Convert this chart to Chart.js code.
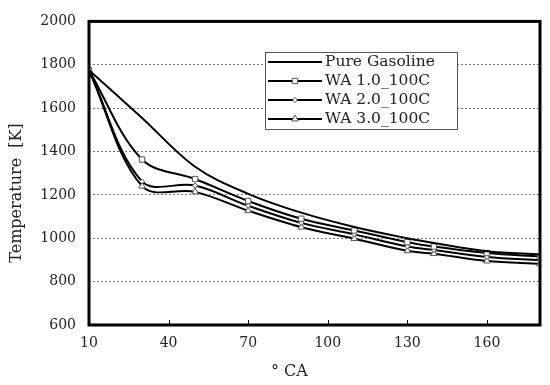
<!DOCTYPE html>
<html>
<head>
<meta charset="utf-8">
<script src="https://cdn.jsdelivr.net/npm/chart.js@4/dist/chart.umd.min.js"></script>
<style>
  html, body { margin: 0; padding: 0; background: #fff; }
  #wrap { width: 550px; height: 385px; }
</style>
</head>
<body>
<div id="wrap"><canvas id="myChart" width="550" height="385"></canvas></div>
<script>
// crank angle (°CA) and in-cylinder temperature [K]
const crankAngle = [10, 30, 50, 70, 90, 110, 130, 140, 160, 180];
const pureGasoline = [1775, 1555, 1330, 1205, 1118, 1052, 1000, 978, 940, 925];
const wa10 = [1775, 1363, 1273, 1172, 1090, 1036, 982, 962, 932, 916];
const wa20 = [1775, 1262, 1243, 1150, 1071, 1018, 962, 946, 914, 898];
const wa30 = [1775, 1240, 1214, 1127, 1051, 998, 942, 929, 895, 882];

const seriesNames = ['Pure Gasoline', 'WA 1.0_100C', 'WA 2.0_100C', 'WA 3.0_100C'];
const xTicks = [10, 40, 70, 100, 130, 160];
const yMin = 600, yMax = 2000, yStep = 200;

const serif = 'DejaVu Serif';

function pts(vals) {
  return crankAngle.map((x, i) => ({ x: x, y: vals[i] }));
}

function line(label, vals, style, radius) {
  return {
    label: label,
    data: pts(vals),
    borderColor: '#000',
    borderWidth: 2,
    tension: 0.35,
    pointStyle: style,
    pointRadius: radius,
    pointBorderColor: '#555',
    pointBackgroundColor: '#fff',
    pointBorderWidth: 1
  };
}

const framePlugin = {
  id: 'frame',
  afterDraw(chart) {
    const ctx = chart.ctx;
    const a = chart.chartArea;
    const xs = chart.scales.x;
    ctx.save();
    // inward x ticks
    ctx.strokeStyle = '#000';
    ctx.lineWidth = 1;
    xTicks.forEach(v => {
      const px = Math.round(xs.getPixelForValue(v)) + 0.5;
      ctx.beginPath();
      ctx.moveTo(px, a.bottom);
      ctx.lineTo(px, a.bottom - 5);
      ctx.stroke();
    });
    // plot frame
    ctx.lineWidth = 3;
    ctx.strokeRect(a.left, a.top, a.right - a.left, a.bottom - a.top);

    // axis titles
    ctx.fillStyle = '#222';
    ctx.font = '16px "' + serif + '"';
    ctx.textBaseline = 'middle';
    ctx.textAlign = 'left';
    ctx.fillText('° CA', 271, 372);
    ctx.save();
    ctx.translate(17, 193);
    ctx.rotate(-Math.PI / 2);
    ctx.textAlign = 'center';
    ctx.fillText('Temperature  [K]', 0, 0);
    ctx.restore();

    // legend box
    const bx = 265, by = 52, bw = 192, bh = 77;
    ctx.fillStyle = '#fff';
    ctx.fillRect(bx, by, bw, bh);
    ctx.strokeStyle = '#555';
    ctx.lineWidth = 1;
    ctx.strokeRect(bx + 0.5, by + 0.5, bw, bh);
    chart.data.datasets.forEach((ds, i) => {
      const y = 62 + i * 19;
      ctx.strokeStyle = '#000';
      ctx.lineWidth = 2;
      ctx.beginPath();
      ctx.moveTo(268, y);
      ctx.lineTo(322, y);
      ctx.stroke();
      if (ds.pointRadius > 0) {
        ctx.strokeStyle = ds.pointBorderColor;
        ctx.fillStyle = ds.pointBackgroundColor;
        ctx.lineWidth = 1;
        Chart.helpers.drawPoint(ctx, {
          pointStyle: ds.pointStyle, radius: ds.pointRadius, borderWidth: 1, rotation: 0
        }, 295, y);
      }
      ctx.fillStyle = '#222';
      ctx.font = '15.5px "' + serif + '"';
      ctx.textAlign = 'left';
      ctx.textBaseline = 'middle';
      ctx.fillText(ds.label, 325, y);
    });
    ctx.restore();
  }
};

const ctx = document.getElementById('myChart').getContext('2d');
const myChart = new Chart(ctx, {
  type: 'line',
  data: {
    datasets: [
      line(seriesNames[0], pureGasoline, 'circle', 0),
      line(seriesNames[1], wa10, 'rect', 3.8),
      line(seriesNames[2], wa20, 'rectRot', 2.5),
      line(seriesNames[3], wa30, 'triangle', 3.8)
    ]
  },
  options: {
    responsive: false,
    animation: false,
    layout: { padding: { top: 15, right: 10, left: 0, bottom: 0 } },
    plugins: {
      legend: { display: false },
      tooltip: { enabled: false }
    },
    scales: {
      x: {
        type: 'linear',
        min: 10,
        max: 180,
        afterBuildTicks: s => { s.ticks = xTicks.map(v => ({ value: v })); },
        afterFit: s => { s.height = 60; },
        grid: { display: false, drawTicks: false },
        border: { display: false },
        ticks: {
          padding: 10,
          color: '#222',
          font: { family: serif, size: 14 },
          callback: v => String(v)
        }
      },
      y: {
        min: yMin,
        max: yMax,
        afterFit: s => { s.width = 89; },
        grid: { color: '#777', lineWidth: 1, drawTicks: false, tickLength: 0 },
        border: { display: false, dash: [2, 2] },
        ticks: {
          stepSize: yStep,
          padding: 13,
          color: '#222',
          font: { family: serif, size: 14 },
          callback: v => String(v)
        }
      }
    }
  },
  plugins: [framePlugin]
});
</script>
</body>
</html>
